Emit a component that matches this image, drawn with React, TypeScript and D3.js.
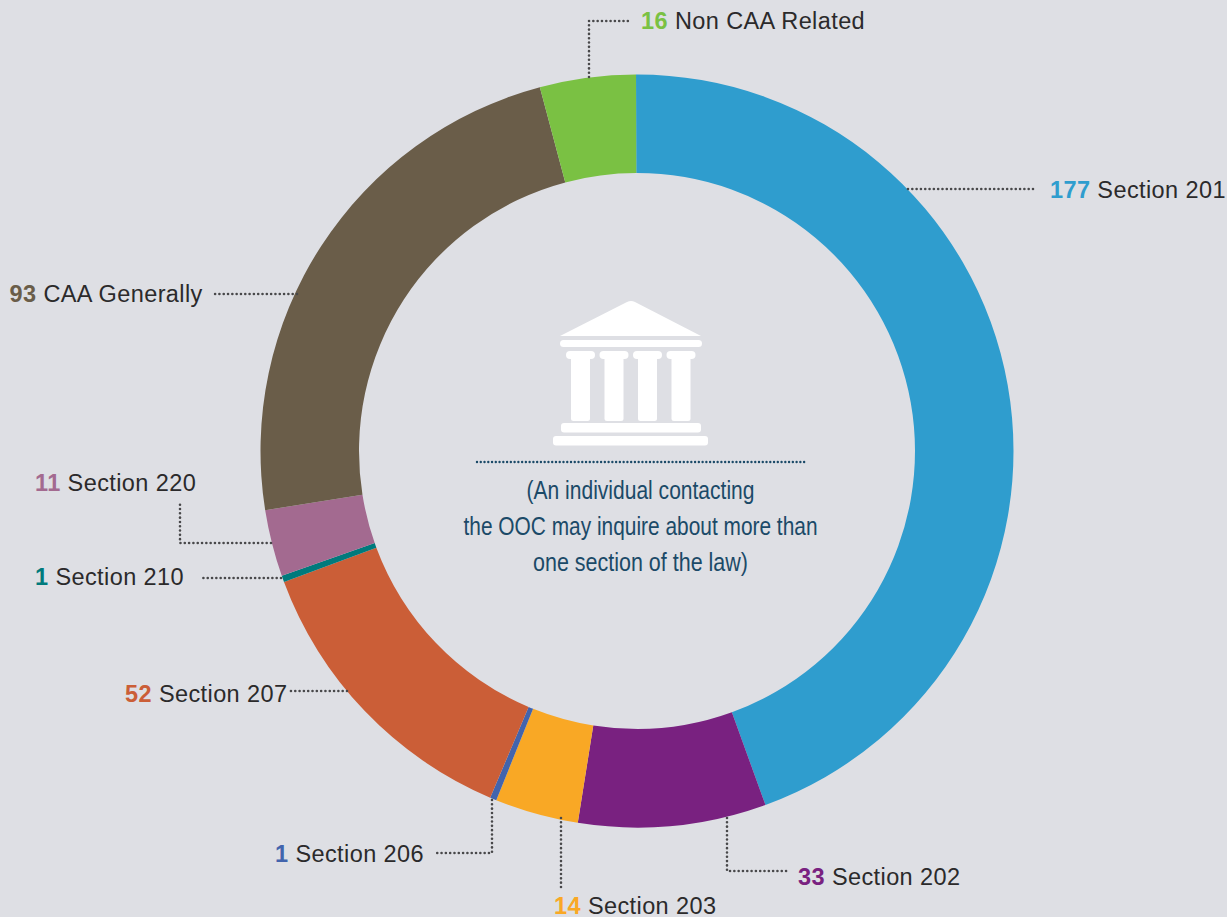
import * as d3 from 'd3';

const labels = ['Section 201', 'Section 202', 'Section 203', 'Section 206', 'Section 207', 'Section 210', 'Section 220', 'CAA Generally', 'Non CAA Related'];
const values = [177, 33, 14, 1, 52, 1, 11, 93, 16];
// the printed ring is not quite proportional to the counts, so sweeps are read off the picture (degrees)
const sweeps = [160.2, 29, 12.9, 1, 46.7, 1, 10.3, 84.1, 14.8];
const colors = ['#2f9dce', '#792180', '#f9a825', '#4264ad', '#cb5e37', '#007a7c', '#a36a90', '#6a5d49', '#7ac143'];

// where each label sits, in the same order as labels
const labelX = [1050, 798, 554, 275, 125, 35, 35, 9.5, 641];
const labelY = [198, 885, 914, 862, 702, 585, 491, 302, 29];

// dotted leaders from the ring to the labels
const leaders = [
	[[908, 189], [1037, 189]],
	[[727, 818], [727, 871], [787, 871]],
	[[561, 818], [561, 887]],
	[[492, 800], [492, 853], [434, 853]],
	[[347, 691], [288, 691]],
	[[281, 578], [203, 578]],
	[[271, 543], [180, 543], [180, 501]],
	[[297, 294], [214, 294]],
	[[589, 77], [589, 21], [632, 21]],
];

const noteLines = ['(An individual contacting', 'the OOC may inquire about more than', 'one section of the law)'];
const noteWidths = [228, 354, 215];

const width = 1227;
const height = 917;
const cx = 637;
const cy = 451;
const outerRadius = 376.5;
const innerRadius = 278;
const bg = '#dedfe4';
const textColor = '#2b2a2b';
const noteColor = '#1b4a68';
const font = '"Liberation Sans", Arial, sans-serif';

const columnX = [571, 604.5, 638, 671.5];

const App = () => {
	// ring starts a touch left of twelve o'clock, as printed
	const start = (-0.15 * Math.PI) / 180;
	const pie = d3.pie<number>().sort(null).value((d) => d).startAngle(start).endAngle(start + 2 * Math.PI);
	const arc = d3.arc<d3.PieArcDatum<number>>().innerRadius(innerRadius).outerRadius(outerRadius);
	const line = d3.line();
	const slices = pie(sweeps);

	return (
		<svg width={width} height={height} style={{ position: 'fixed', top: 0, left: 0, background: bg }}>
			<g transform={`translate(${cx}, ${cy})`}>
				{slices.map((d, i) => (
					<path key={labels[i]} d={arc(d)} fill={colors[i]} />
				))}
			</g>

			{leaders.map((pts, i) => (
				<path
					key={i}
					d={line(pts)}
					fill="none"
					stroke="#48484a"
					strokeWidth={2.6}
					strokeLinecap="round"
					strokeDasharray="0.01 4.3"
				/>
			))}

			{labels.map((label, i) => (
				<text key={label} x={labelX[i]} y={labelY[i]} fontFamily={font} fontSize={23.5} letterSpacing={0.4} fill={textColor}>
					<tspan fontWeight="bold" fill={colors[i]}>{values[i]}</tspan>
					<tspan> {label}</tspan>
				</text>
			))}

			{/* courthouse icon */}
			<g fill="#fff">
				<path d="M560 336 L627 302 Q631 300 635 302 L701 336 Z" />
				<rect x={560} y={340} width={142} height={7} rx={3.5} />
				{columnX.map((x) => (
					<g key={x}>
						<rect x={x - 5} y={351} width={29} height={8} rx={4} />
						<rect x={x} y={353} width={19} height={68} rx={2.5} />
					</g>
				))}
				<rect x={561} y={423} width={140} height={9.5} rx={3} />
				<rect x={553} y={436} width={155} height={9.5} rx={3} />
			</g>

			<path
				d={line([[477, 462], [806, 462]])}
				fill="none"
				stroke={noteColor}
				strokeWidth={2.4}
				strokeLinecap="round"
				strokeDasharray="0.01 3.75"
			/>

			{noteLines.map((t, i) => (
				<text
					key={t}
					x={640.5}
					y={499 + i * 36}
					textAnchor="middle"
					fontFamily={font}
					fontSize={26}
					fill={noteColor}
					textLength={noteWidths[i]}
					lengthAdjust="spacingAndGlyphs"
				>
					{t}
				</text>
			))}
		</svg>
	);
};

export default App;
